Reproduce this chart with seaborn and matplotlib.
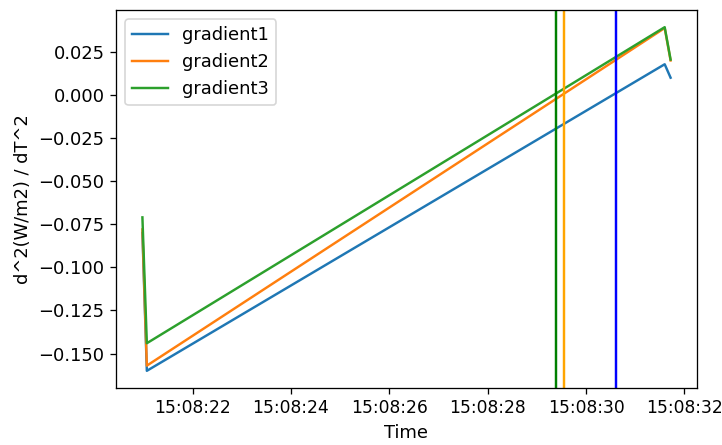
import pandas as pd
import matplotlib
matplotlib.use("Agg")
import matplotlib.pyplot as plt
import matplotlib.dates as mdates
import seaborn as sns

# Data
times = ["2021-01-01 15:08:20.98", "2021-01-01 15:08:21.07",
         "2021-01-01 15:08:31.60", "2021-01-01 15:08:31.72"]
gradient1 = [-0.080, -0.160, 0.0178, 0.0100]
gradient2 = [-0.078, -0.157, 0.0388, 0.0200]
gradient3 = [-0.071, -0.144, 0.0393, 0.0205]
series_names = ["gradient1", "gradient2", "gradient3"]
zero_times = ["2021-01-01 15:08:30.62", "2021-01-01 15:08:29.56", "2021-01-01 15:08:29.39"]
zero_colors = ["blue", "orange", "green"]

plt.rcParams["font.size"] = 11
plt.rcParams["xtick.labelsize"] = 10.5

t = pd.to_datetime(times)
df = pd.DataFrame({"Time": t, "gradient1": gradient1,
                   "gradient2": gradient2, "gradient3": gradient3})

DPI = 117
fig = plt.figure(figsize=(722 / DPI, 445 / DPI), dpi=DPI)
ax = fig.add_axes([116 / 722, 1 - 388 / 445, (697 - 116) / 722, (388 - 10) / 445])

palette = sns.color_palette("tab10")
for i, name in enumerate(series_names):
    sns.lineplot(data=df, x="Time", y=name, ax=ax, color=palette[i], label=name)

for zt, c in zip(zero_times, zero_colors):
    ax.axvline(pd.Timestamp(zt), color=c)

ax.xaxis.set_major_locator(mdates.SecondLocator(bysecond=range(0, 60, 2)))
ax.xaxis.set_major_formatter(mdates.DateFormatter("%H:%M:%S"))
ax.set_xlabel("Time")
ax.set_ylabel("d^2(W/m2) / dT^2")
ax.legend(loc="upper left")

fig.savefig("out.png", dpi=DPI)
